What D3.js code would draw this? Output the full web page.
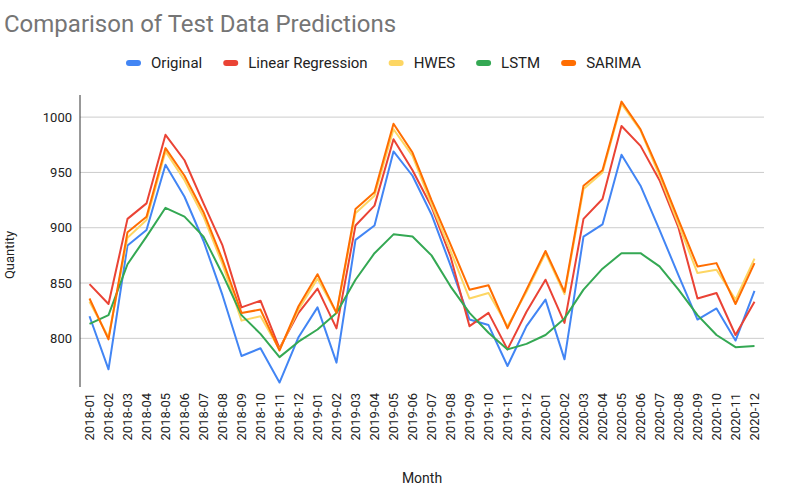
<!DOCTYPE html>
<html>
<head>
<meta charset="utf-8">
<script src="https://cdn.jsdelivr.net/npm/d3@7"></script>
<style>
    body { margin: 0; background: #fff; }
    text { font-family: Roboto, Arial, sans-serif; }
</style>
</head>
<body>
<svg id="chart" width="794" height="495"></svg>
<script>
// months on the x axis
let months = [];
for (let yr = 2018; yr <= 2020; yr++) {
    for (let m = 1; m <= 12; m++) {
        months.push(yr + "-" + (m < 10 ? "0" + m : m));
    }
}

let seriesNames = ["Original", "Linear Regression", "HWES", "LSTM", "SARIMA"];
let seriesColors = ["#4285F4", "#EA4335", "#FDD663", "#34A853", "#FF6D01"];

let original = [820, 772, 884, 898, 957, 928, 888, 839, 784, 791, 760, 801,
    828, 778, 889, 902, 969, 947, 912, 866, 817, 812, 775, 811,
    835, 781, 892, 903, 966, 938, 898, 857, 817, 827, 798, 843];
let linearRegression = [849, 831, 908, 922, 984, 961, 922, 884, 828, 834, 791, 823,
    845, 809, 902, 920, 980, 952, 919, 874, 811, 823, 790, 824,
    853, 814, 908, 926, 992, 974, 943, 900, 836, 841, 803, 833];
let hwes = [833, 801, 891, 907, 969, 943, 910, 867, 816, 820, 790, 826,
    854, 823, 913, 929, 989, 965, 921, 879, 836, 841, 811, 842,
    877, 840, 935, 950, 1012, 988, 947, 903, 859, 862, 835, 872];
let lstm = [813, 821, 867, 892, 918, 910, 892, 858, 821, 804, 783, 797,
    808, 823, 853, 877, 894, 892, 875, 847, 823, 805, 790, 795,
    803, 818, 844, 863, 877, 877, 865, 844, 821, 803, 792, 793];
let sarima = [836, 799, 896, 910, 972, 947, 914, 871, 823, 826, 789, 829,
    858, 823, 917, 932, 994, 968, 925, 885, 844, 848, 809, 844,
    879, 842, 938, 952, 1014, 989, 950, 907, 865, 868, 831, 868];

let yTicks = [800, 850, 900, 950, 1000];

let svg = d3.select("#chart");

// plot area
let plotLeft = 80, plotRight = 764, plotTop = 95, plotBottom = 387;

let x = d3.scalePoint().domain(months).range([plotLeft, plotRight]).padding(0.5);
let y = d3.scaleLinear().domain([756, 1020]).range([plotBottom, plotTop]);

// title
svg.append("text")
    .attr("x", 4).attr("y", 32)
    .attr("font-size", 24)
    .attr("fill", "#757575")
    .text("Comparison of Test Data Predictions");

// gridlines
svg.append("g").selectAll("line").data(yTicks).join("line")
    .attr("x1", plotLeft).attr("x2", plotRight)
    .attr("y1", d => y(d)).attr("y2", d => y(d))
    .attr("stroke", "#cccccc").attr("stroke-width", 1);

// y tick labels
svg.append("g").selectAll("text").data(yTicks).join("text")
    .attr("x", plotLeft - 8).attr("y", d => y(d))
    .attr("dy", "0.35em")
    .attr("text-anchor", "end")
    .attr("font-size", 13)
    .attr("fill", "#222")
    .text(d => d);

// x tick labels, rotated
svg.append("g").selectAll("text").data(months).join("text")
    .attr("transform", d => "translate(" + x(d) + "," + (plotBottom + 6) + ") rotate(-90)")
    .attr("dy", "0.35em")
    .attr("text-anchor", "end")
    .attr("font-size", 13)
    .attr("fill", "#222")
    .text(d => d);

// axis titles
svg.append("text")
    .attr("x", (plotLeft + plotRight) / 2).attr("y", 483)
    .attr("text-anchor", "middle")
    .attr("font-size", 14).attr("fill", "#222")
    .text("Month");
svg.append("text")
    .attr("transform", "translate(14,255) rotate(-90)")
    .attr("text-anchor", "middle")
    .attr("font-size", 13).attr("fill", "#222")
    .text("Quantity");

// lines
let allSeries = [original, linearRegression, hwes, lstm, sarima];
let line = d3.line()
    .x((d, i) => x(months[i]))
    .y(d => y(d));
for (let i = 0; i < allSeries.length; i++) {
    svg.append("path")
        .datum(allSeries[i])
        .attr("fill", "none")
        .attr("stroke", seriesColors[i])
        .attr("stroke-width", 2)
        .attr("stroke-linejoin", "round")
        .attr("d", line);
}

// y axis line
svg.append("line")
    .attr("x1", plotLeft).attr("x2", plotLeft)
    .attr("y1", plotTop).attr("y2", plotBottom)
    .attr("stroke", "#333").attr("stroke-width", 1);

// legend
let lx = 126;
let legend = svg.append("g");
for (let i = 0; i < seriesNames.length; i++) {
    legend.append("rect")
        .attr("x", lx).attr("y", 60)
        .attr("width", 15).attr("height", 6)
        .attr("rx", 3)
        .attr("fill", seriesColors[i]);
    let t = legend.append("text")
        .attr("x", lx + 25).attr("y", 63)
        .attr("dy", "0.35em")
        .attr("font-size", 15).attr("fill", "#222")
        .text(seriesNames[i]);
    lx += 25 + t.node().getComputedTextLength() + 21;
}
</script>
</body>
</html>
